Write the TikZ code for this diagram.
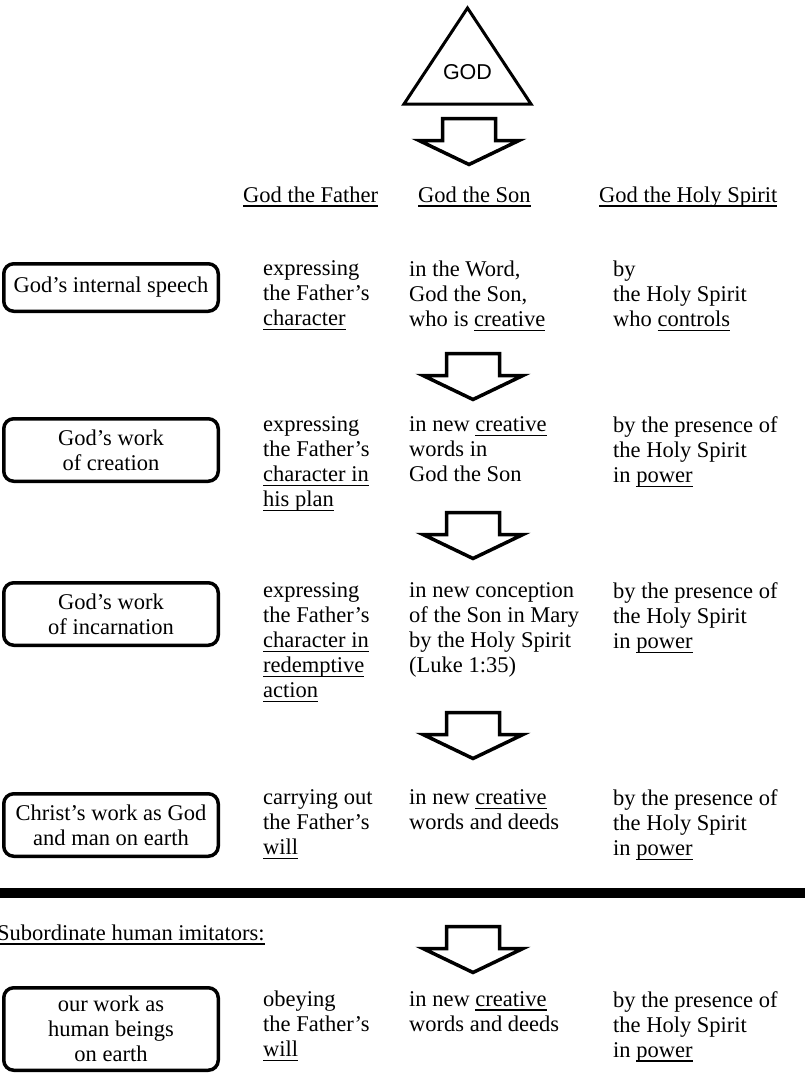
\documentclass[tikz,border=0pt]{standalone}
\usepackage{fontspec}
\setmainfont{Liberation Serif}
\newfontfamily\godfont{Liberation Sans}

% underline at a fixed depth below the baseline
\newsavebox\ulbox
\newcommand{\ulin}[1]{\sbox\ulbox{#1}\rlap{\rule[-4.5pt]{\wd\ulbox}{1.3pt}}\usebox\ulbox}

\tikzset{
    every node/.style={font=\fontsize{22.5}{25}\selectfont, inner sep=0pt},
    work/.style={draw, line width=3.5pt, rounded corners=10pt, minimum width=214.5pt, align=center},
    coltext/.style={anchor=north west, align=left, execute at begin node=\strut},
    blockarrow/.style={draw, line width=3.5pt, line join=miter},
}

\begin{document}
\begin{tikzpicture}[x=1pt, y=-1pt]
        \useasboundingbox (0,0) rectangle (804,1074);

        % GOD triangle
        \draw [line width=3pt, line join=miter] (467.5,8) -- (531,104) -- (404,104) -- cycle;
        \node [font=\godfont\fontsize{21.5}{24}\selectfont] (god) at (467.5,72) {GOD};

        % Block arrows pointing down
        \foreach \x/\y in {469/118.5, 473/353.5, 473/512.5, 473/712.5, 473/926.5} {
            \draw [blockarrow] (\x-26.5,\y) -- (\x+26.5,\y) -- (\x+26.5,\y+22) -- (\x+50,\y+22)
                -- (\x,\y+46) -- (\x-50,\y+22) -- (\x-26.5,\y+22) -- cycle;
        }

        % Column headings
        \node [anchor=base west] (father) at (243,202) {\ulin{God the Father}};
        \node [anchor=base west] (son) at (418,202) {\ulin{God the Son}};
        \node [anchor=base west] (spirit) at (599,202) {\ulin{God the Holy Spirit}};

        % Internal speech
        \node [work, minimum height=47.5pt] (speech) at (111,287.5) {God's internal speech};
        \node [coltext] (father1) at (263,260.5) {expressing\\the Father's\\\ulin{character}};
        \node [coltext] (son1) at (409,260.5) {in the Word,\\God the Son,\\who is \ulin{creative}};
        \node [coltext] (spirit1) at (613,260.5) {by\\the Holy Spirit\\who \ulin{controls}};

        % Creation
        \node [work, minimum height=62.5pt] (creation) at (111,450) {God's work\\of creation};
        \node [coltext] (father2) at (263,416.5) {expressing\\the Father's\\\ulin{character in}\\\ulin{his plan}};
        \node [coltext] (son2) at (409,416.5) {in new \ulin{creative}\\words in\\God the Son};
        \node [coltext] (spirit2) at (613,416.5) {by the presence of\\the Holy Spirit\\in \ulin{power}};

        % Incarnation
        \node [work, minimum height=62.5pt] (incarnation) at (111,614) {God's work\\of incarnation};
        \node [coltext] (father3) at (263,582.5) {expressing\\the Father's\\\ulin{character in}\\\ulin{redemptive}\\\ulin{action}};
        \node [coltext] (son3) at (409,582.5) {in new conception\\of the Son in Mary\\by the Holy Spirit\\(Luke 1:35)};
        \node [coltext] (spirit3) at (613,582.5) {by the presence of\\the Holy Spirit\\in \ulin{power}};

        % Christ on earth
        \node [work, minimum height=62.5pt] (christ) at (111,825) {Christ's work as God\\and man on earth};
        \node [coltext] (father4) at (263,789.5) {carrying out\\the Father's\\\ulin{will}};
        \node [coltext] (son4) at (409,789.5) {in new \ulin{creative}\\words and deeds};
        \node [coltext] (spirit4) at (613,789.5) {by the presence of\\the Holy Spirit\\in \ulin{power}};

        % Dividing bar
        \fill (-5,888) rectangle (810,898);
        \node [anchor=base west] (imitators) at (-3,940) {\ulin{Subordinate human imitators:}};

        % Human imitators
        \node [work, minimum height=82.5pt] (human) at (111,1029) {our work as\\human beings\\on earth};
        \node [coltext] (father5) at (263,991) {obeying\\the Father's\\\ulin{will}};
        \node [coltext] (son5) at (409,991) {in new \ulin{creative}\\words and deeds};
        \node [coltext] (spirit5) at (613,991) {by the presence of\\the Holy Spirit\\in \ulin{power}};

\end{tikzpicture}
\end{document}
